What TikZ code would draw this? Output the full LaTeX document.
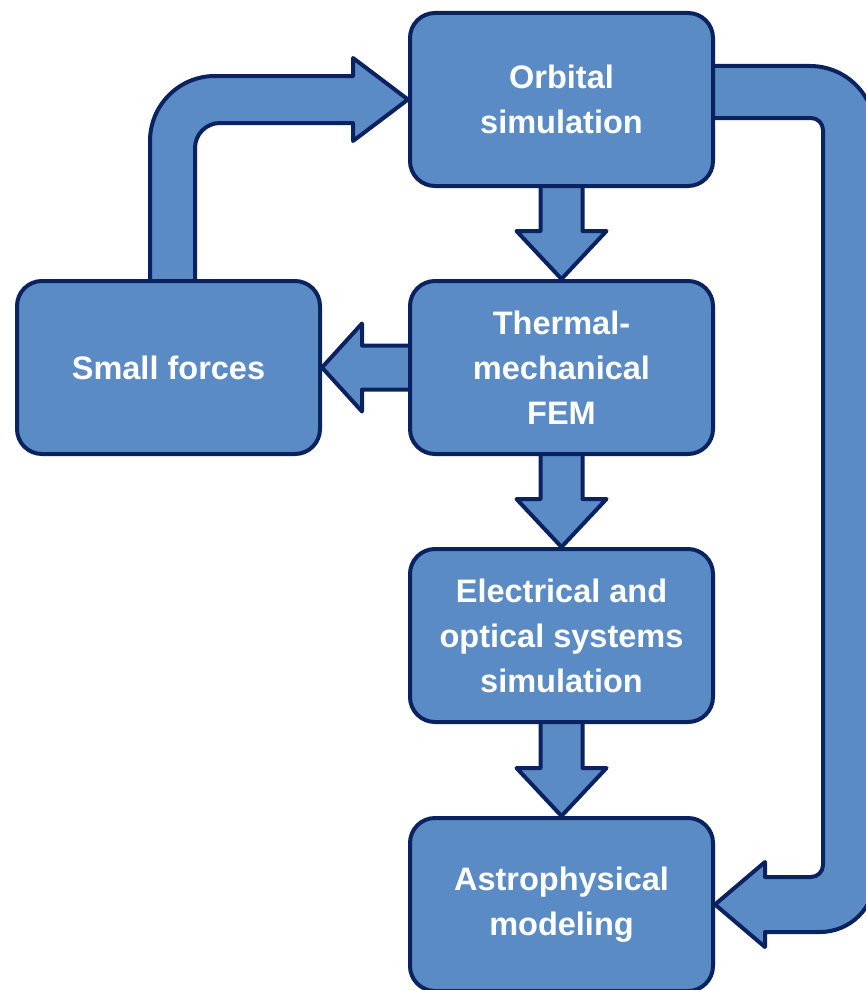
\documentclass[tikz,border=0pt]{standalone}
\usepackage{fontspec}
\setmainfont{Liberation Sans}
\usetikzlibrary{positioning,calc,backgrounds}

\definecolor{boxfill}{RGB}{91,139,197}
\definecolor{boxline}{RGB}{10,35,96}

\tikzset{
	box/.style={draw=boxline, fill=boxfill, line width=4pt, rounded corners=25pt,
		minimum width=303pt, minimum height=173pt, align=center, text=white,
		font=\fontsize{32.5}{45}\selectfont\bfseries},
	blockarrow/.style={draw=boxline, fill=boxfill, line width=4pt, line join=round}
}

\newcommand{\dnblock}[2]{%
	\filldraw[blockarrow] ($(#1.south)+(-21,-6)$) -- ($(#2.north)+(-21,-48)$) -- ++(-24,0)
		-- (#2.north) -- ++(45,-48) -- ++(-24,0) -- ($(#1.south)+(21,-6)$) -- cycle;}

\begin{document}
\begin{tikzpicture}[x=1pt, y=-1pt]
	\useasboundingbox (0,0) rectangle (865,990);
	
	\node[box] (orbit) at (561.5,99.5) {Orbital\\simulation};
	\node[box, below=91pt of orbit] (thermal) {Thermal-\\mechanical\\FEM};
	\node[box, below=91pt of thermal] (elec) {Electrical and\\optical systems\\simulation};
	\node[box, below=92pt of elec] (astro) {Astrophysical\\modeling};
	\node[box, left=86pt of thermal] (small) {Small forces};
	
	\begin{pgfonlayer}{background}
		\dnblock{orbit}{thermal}
		\dnblock{thermal}{elec}
		\dnblock{elec}{astro}
		
		% thermal -> small forces
		\filldraw[blockarrow] ($(thermal.west)+(6,-22)$) -- ($(small.east)+(40,-22)$) -- ++(0,-22)
			-- (small.east) -- ++(40,44) -- ++(0,-22) -- ($(thermal.west)+(6,22)$) -- cycle;
		
		% small forces -> orbit
		\filldraw[blockarrow] ($(small.north)+(-18.5,6)$)
			-- ($(small.north |- orbit.west)+(-18.5,41.5)$) arc[start angle=180, end angle=270, radius=65]
			-- ($(orbit.west)+(-55,-23.5)$) -- ++(0,-18) -- (orbit.west) -- ++(-55,41.5) -- ++(0,-18)
			-- ($(small.north |- orbit.west)+(51.5,23.5)$) arc[start angle=270, end angle=180, radius=25]
			-- ($(small.north)+(26.5,6)$) -- cycle;
		
		% orbit -> astro
		\filldraw[blockarrow] ($(orbit.east)+(-6,-33.5)$)
			-- ($(orbit.east)+(95,-33.5)$) arc[start angle=270, end angle=360, radius=65]
			-- ($(astro.east)+(160,-27.5)$) arc[start angle=0, end angle=90, radius=55]
			-- ($(astro.east)+(50,27.5)$) -- ++(0,15) -- (astro.east) -- ++(50,-42.5) -- ++(0,15)
			-- ($(astro.east)+(96,-27.5)$) arc[start angle=90, end angle=0, radius=12]
			-- ($(orbit.east)+(108,30.5)$) arc[start angle=0, end angle=-90, radius=12]
			-- ($(orbit.east)+(-6,18.5)$) -- cycle;
	\end{pgfonlayer}
\end{tikzpicture}
\end{document}
